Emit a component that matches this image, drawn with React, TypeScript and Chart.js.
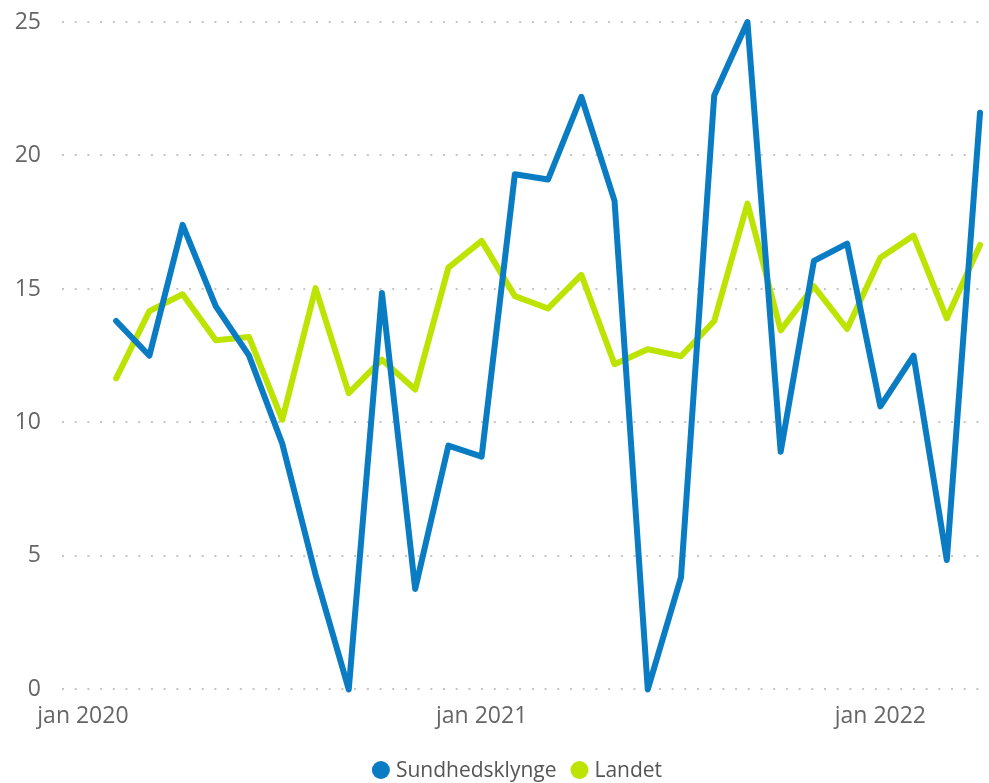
import React, { useEffect, useRef } from "react";
import { Chart, registerables } from "chart.js";

Chart.register(...registerables);

const months: string[] = [
  "feb 2020", "mar 2020", "apr 2020", "maj 2020", "jun 2020", "jul 2020", "aug 2020", "sep 2020", "okt 2020", "nov 2020", "dec 2020",
  "jan 2021", "feb 2021", "mar 2021", "apr 2021", "maj 2021", "jun 2021", "jul 2021", "aug 2021", "sep 2021", "okt 2021", "nov 2021", "dec 2021",
  "jan 2022", "feb 2022", "mar 2022", "apr 2022",
];
const firstMonthIndex = 1; // feb 2020 counted from jan 2020

const sundhedsklynge: number[] = [
  13.8, 12.5, 17.4, 14.35, 12.5, 9.2, 4.3, 0, 14.85, 3.76, 9.13,
  8.72, 19.3, 19.1, 22.2, 18.3, 0, 4.2, 22.25, 25, 8.9, 16.05, 16.7,
  10.6, 12.5, 4.85, 21.6,
];
const landet: number[] = [
  11.65, 14.17, 14.8, 13.08, 13.2, 10.1, 15.03, 11.1, 12.35, 11.23, 15.8,
  16.8, 14.73, 14.27, 15.53, 12.18, 12.74, 12.48, 13.8, 18.2, 13.45, 15.1, 13.5,
  16.17, 17.0, 13.9, 16.65,
];

const xTickValues: number[] = [0, 12, 24];
const xTickLabels: string[] = ["jan 2020", "jan 2021", "jan 2022"];
const yTicks: number[] = [0, 5, 10, 15, 20, 25];

const seriesNames: string[] = ["Sundhedsklynge", "Landet"];
const seriesColors: string[] = ["#0a7cc4", "#bde300"];

const FONT = "'Segoe UI', 'Open Sans', 'Noto Sans', sans-serif";
const TEXT_COLOR = "#666666";

const legendPlugin = {
  id: "customLegend",
  afterDraw(chart: any) {
    const ctx = chart.ctx as CanvasRenderingContext2D;
    const opts = chart.options.plugins.customLegend;
    ctx.save();
    ctx.font = `${opts.fontSize}px ${FONT}`;
    ctx.textBaseline = "middle";
    ctx.textAlign = "left";
    const r = opts.radius;
    const gapText = opts.gapText;
    const gapItem = opts.gapItem;
    const ds = chart.data.datasets;
    let total = 0;
    ds.forEach((d: any, i: number) => {
      total += 2 * r + gapText + ctx.measureText(d.label).width;
      if (i < ds.length - 1) total += gapItem;
    });
    let x = opts.centerX - total / 2;
    const y = opts.y;
    ds.forEach((d: any) => {
      ctx.beginPath();
      ctx.fillStyle = d.borderColor;
      ctx.arc(x + r, y, r, 0, Math.PI * 2);
      ctx.fill();
      x += 2 * r + gapText;
      ctx.fillStyle = opts.color;
      ctx.fillText(d.label, x, y + 1);
      x += ctx.measureText(d.label).width + gapItem;
    });
    ctx.restore();
  },
};

export default function App() {
  const canvasRef = useRef<HTMLCanvasElement | null>(null);

  useEffect(() => {
    if (!canvasRef.current) return;
    const toPoints = (arr: number[]) =>
      arr.map((v, i) => ({ x: firstMonthIndex + i, y: v, label: months[i] }));

    const chart = new Chart(canvasRef.current, {
      type: "line",
      data: {
        datasets: [
          {
            label: seriesNames[0],
            data: toPoints(sundhedsklynge),
            borderColor: seriesColors[0],
            backgroundColor: seriesColors[0],
            borderWidth: 6,
            borderJoinStyle: "round",
            borderCapStyle: "round",
            pointRadius: 0,
            tension: 0,
            clip: false as any,
          },
          {
            label: seriesNames[1],
            data: toPoints(landet),
            borderColor: seriesColors[1],
            backgroundColor: seriesColors[1],
            borderWidth: 6,
            borderJoinStyle: "round",
            borderCapStyle: "round",
            pointRadius: 0,
            tension: 0,
            clip: false as any,
          },
        ],
      },
      options: {
        responsive: false,
        animation: false,
        layout: { padding: { left: 0, right: 0, top: 22, bottom: 40 } },
        plugins: {
          legend: { display: false },
          tooltip: { enabled: false },
          customLegend: {
            fontSize: 21,
            radius: 9,
            gapText: 6,
            gapItem: 14,
            centerX: 517,
            y: 770,
            color: "#555555",
          },
        } as any,
        scales: {
          x: {
            type: "linear",
            min: -0.63,
            max: 27.27,
            grid: { display: false, drawTicks: false },
            border: { display: false },
            afterBuildTicks: (scale: any) => {
              scale.ticks = xTickValues.map((v) => ({ value: v }));
            },
            ticks: {
              autoSkip: false,
              maxRotation: 0,
              padding: 13,
              color: TEXT_COLOR,
              font: { family: FONT, size: 23 },
              callback: (v: any) => {
                const i = xTickValues.indexOf(Number(v));
                return i >= 0 ? xTickLabels[i] : "";
              },
            },
          },
          y: {
            min: 0,
            max: 25,
            afterBuildTicks: (scale: any) => {
              scale.ticks = yTicks.map((v) => ({ value: v }));
            },
            afterFit: (scale: any) => {
              scale.width = 62;
              scale.paddingTop = 0;
              scale.paddingBottom = 0;
            },
            grid: {
              color: "#c8c6c4",
              lineWidth: 2,
              drawTicks: false,
            },
            border: { display: false, dash: [2, 10.7] },
            ticks: {
              padding: 21,
              color: TEXT_COLOR,
              font: { family: FONT, size: 23 },
            },
          },
        },
      },
      plugins: [legendPlugin],
    });
    return () => chart.destroy();
  }, []);

  return (
    <div style={{ position: "absolute", left: 0, top: 0, width: 989, height: 783, background: "#fff" }}>
      <canvas ref={canvasRef} width={989} height={783} />
    </div>
  );
}
